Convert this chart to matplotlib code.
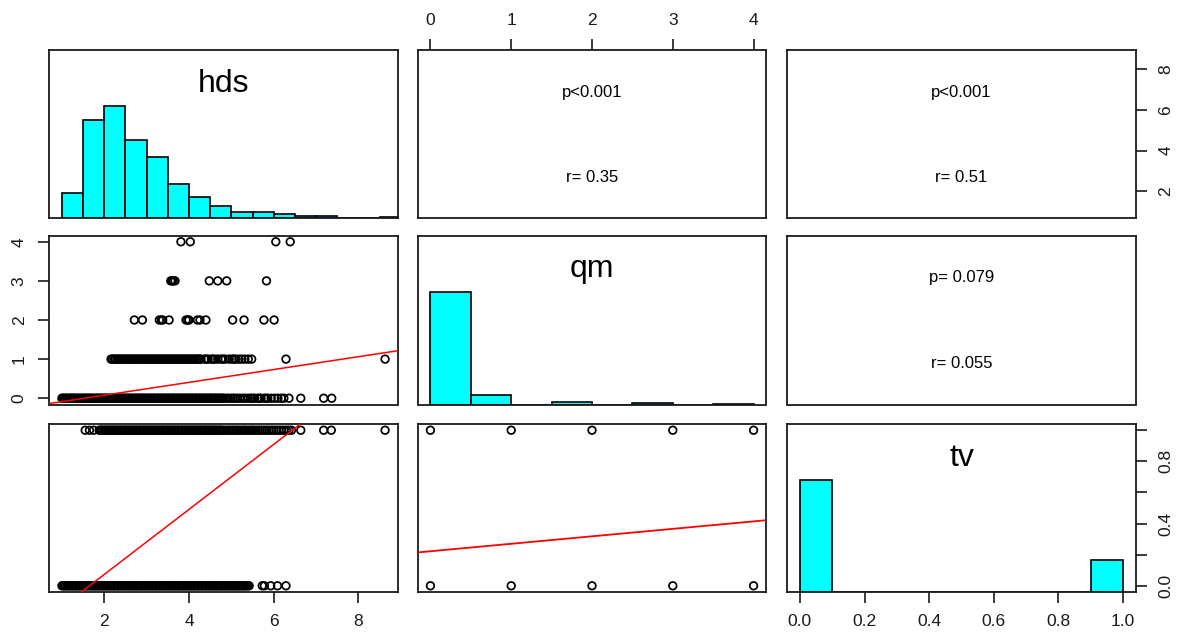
import matplotlib
matplotlib.use("Agg")
import matplotlib.pyplot as plt
import matplotlib.transforms as mtransforms
import numpy as np

plt.rcParams['font.family'] = ['Liberation Sans', 'DejaVu Sans']

# ---------------- data ----------------
var_names = ["hds", "qm", "tv"]

# histogram of hds (breaks every 0.5 from 1.0)
hds_breaks = [1.0, 1.5, 2.0, 2.5, 3.0, 3.5, 4.0, 4.5, 5.0, 5.5, 6.0, 6.5, 7.0, 7.5, 8.0, 8.5, 9.0]
hds_counts = [55, 212, 243, 170, 132, 73, 45, 27, 14, 14, 8, 4, 4, 0, 0, 2]

# histogram of qm
qm_breaks = [0.0, 0.5, 1.0, 1.5, 2.0, 2.5, 3.0, 3.5, 4.0]
qm_counts = [898, 77, 0, 17, 0, 8, 0, 4]

# histogram of tv
tv_breaks = [0.0, 0.1, 0.2, 0.3, 0.4, 0.5, 0.6, 0.7, 0.8, 0.9, 1.0]
tv_counts = [782, 0, 0, 0, 0, 0, 0, 0, 0, 222]

# hds values observed at each qm level
hds_qm0 = [1.00, 1.02, 1.05, 1.09, 1.11, 1.14, 1.18, 1.20, 1.23, 1.27, 1.29, 1.32, 1.36, 1.38,
           1.41, 1.45, 1.47, 1.50, 1.54, 1.56, 1.59, 1.63, 1.65, 1.68, 1.72, 1.74, 1.77, 1.81,
           1.83, 1.86, 1.90, 1.92, 1.95, 1.99, 2.01, 2.04, 2.08, 2.10, 2.13, 2.17, 2.19, 2.22,
           2.26, 2.28, 2.31, 2.35, 2.37, 2.40, 2.44, 2.46, 2.49, 2.53, 2.55, 2.58, 2.62, 2.64,
           2.67, 2.71, 2.73, 2.76, 2.80, 2.82, 2.85, 2.89, 2.91, 2.94, 2.98, 3.00, 3.03, 3.07,
           3.09, 3.12, 3.16, 3.18, 3.21, 3.25, 3.27, 3.30, 3.34, 3.36, 3.39, 3.43, 3.45, 3.48,
           3.52, 3.54, 3.57, 3.61, 3.63, 3.66, 3.70, 3.72, 3.75, 3.79, 3.81, 3.84, 3.88, 3.90,
           3.93, 3.97, 3.99, 4.02, 4.06, 4.08, 4.11, 4.15, 4.17, 4.20, 4.24, 4.26, 4.29, 4.33,
           4.35, 4.38, 4.42, 4.44, 4.47, 4.51, 4.53, 4.56, 4.60, 4.62, 4.65, 4.69, 4.71, 4.74,
           4.78, 4.80, 4.83,
           4.88, 4.93, 4.99, 5.04, 5.08, 5.14, 5.20, 5.27, 5.33, 5.40, 5.46, 5.51, 5.55, 5.62,
           5.66, 5.70, 5.78, 5.82, 5.86, 5.94, 6.02, 6.10, 6.18, 6.24, 6.36, 6.64, 7.18, 7.37]
hds_qm1 = [2.16, 2.19, 2.23, 2.26, 2.30, 2.33, 2.37, 2.40, 2.44, 2.47, 2.51, 2.54, 2.58, 2.61,
           2.65, 2.68, 2.72, 2.75, 2.79, 2.82, 2.86, 2.89, 2.93, 2.96, 3.00, 3.03, 3.07, 3.10,
           3.14, 3.17, 3.21, 3.24, 3.28, 3.31, 3.35, 3.38, 3.42, 3.45, 3.49, 3.52, 3.56, 3.59,
           3.63, 3.66, 3.70, 3.73, 3.77, 3.80, 3.84, 3.87, 3.91, 3.94, 3.98, 4.01, 4.05, 4.08,
           4.12, 4.15, 4.19, 4.22, 4.26, 4.28,
           4.37, 4.41, 4.45, 4.53, 4.57, 4.61, 4.68, 4.76, 4.80, 4.85, 4.95, 5.02, 5.06, 5.10,
           5.18, 5.25, 5.32, 5.40, 5.48, 6.29, 8.63]
hds_qm2 = [2.71, 2.90, 3.30, 3.35, 3.38, 3.53, 3.93, 3.97, 4.00, 4.20, 4.26, 4.40, 5.03, 5.30,
           5.77, 6.01]
hds_qm3 = [3.57, 3.60, 3.63, 3.67, 4.48, 4.68, 4.89, 5.83]
hds_qm4 = [3.81, 4.03, 6.05, 6.39]

# hds values observed at each tv level
hds_tv0 = [1.00, 1.03, 1.06, 1.08, 1.12, 1.15, 1.17, 1.21, 1.24, 1.26, 1.30, 1.33, 1.35, 1.39,
           1.42, 1.44, 1.48, 1.51, 1.53, 1.57, 1.60, 1.62, 1.66, 1.69, 1.71, 1.75, 1.78, 1.80,
           1.84, 1.87, 1.89, 1.93, 1.96, 1.98, 2.02, 2.05, 2.07, 2.11, 2.14, 2.16, 2.20, 2.23,
           2.25, 2.29, 2.32, 2.34, 2.38, 2.41, 2.43, 2.47, 2.50, 2.52, 2.56, 2.59, 2.61, 2.65,
           2.68, 2.70, 2.74, 2.77, 2.79, 2.83, 2.86, 2.88, 2.92, 2.95, 2.97, 3.01, 3.04, 3.06,
           3.10, 3.13, 3.15, 3.19, 3.22, 3.24, 3.28, 3.31, 3.33, 3.37, 3.40, 3.42, 3.46, 3.49,
           3.51, 3.55, 3.58, 3.60, 3.64, 3.67, 3.69, 3.73, 3.76, 3.78, 3.82, 3.85, 3.87, 3.91,
           3.94, 3.96, 4.00, 4.03, 4.05, 4.09, 4.12, 4.14, 4.18, 4.21, 4.23, 4.27, 4.30, 4.32,
           4.36, 4.39, 4.41, 4.45, 4.48, 4.50, 4.54, 4.57, 4.59, 4.63, 4.66, 4.68, 4.72, 4.75,
           4.77, 4.81, 4.84, 4.86, 4.90, 4.93, 4.95, 4.99, 5.02, 5.04, 5.08, 5.11, 5.13, 5.17,
           5.20, 5.22, 5.26, 5.29, 5.31, 5.35, 5.38, 5.42,
           5.73, 5.78, 5.93, 6.09, 6.29]
hds_tv1 = [1.55, 1.65, 1.75,
           1.88, 1.91, 1.94, 1.96, 2.00, 2.03, 2.05, 2.09, 2.12, 2.14, 2.18, 2.21, 2.23, 2.27,
           2.30, 2.32, 2.36, 2.39, 2.41, 2.45, 2.48, 2.50, 2.54, 2.57, 2.59, 2.63, 2.66, 2.68,
           2.72, 2.75, 2.77, 2.81, 2.84, 2.86, 2.90, 2.93, 2.95, 2.99, 3.02, 3.04, 3.08, 3.11,
           3.13, 3.17, 3.20, 3.22, 3.26, 3.29, 3.31, 3.35, 3.38, 3.40, 3.44, 3.47, 3.49, 3.53,
           3.56, 3.58, 3.62, 3.65, 3.67, 3.71, 3.74, 3.76, 3.80, 3.83, 3.85, 3.89, 3.92, 3.94,
           3.98, 4.01, 4.03, 4.07, 4.10, 4.12, 4.16, 4.19, 4.21, 4.25, 4.28, 4.30, 4.34, 4.37,
           4.39, 4.43, 4.46, 4.48, 4.52, 4.55, 4.57, 4.61, 4.64, 4.66, 4.70, 4.73, 4.75, 4.79,
           4.83,
           4.88, 4.93, 4.97, 5.02, 5.06, 5.11, 5.15, 5.20, 5.25, 5.30, 5.34, 5.39, 5.44, 5.49,
           5.53, 5.58, 5.63, 5.68, 5.73, 5.79, 5.84, 5.89, 5.95, 6.00, 6.06, 6.12, 6.18, 6.24,
           6.30, 6.36, 6.42, 6.64, 7.18, 7.36, 8.63]

# qm/tv combinations observed
qm_levels = [0, 1, 2, 3, 4]
tv_levels = [0, 1]

# regression lines (intercept, slope)
fit_qm_on_hds = (-0.25, 0.164)
fit_tv_on_hds = (-0.345, 0.209)
fit_tv_on_qm = (0.222, 0.048)

# correlation texts
cor_p = {(0, 1): "p<0.001", (0, 2): "p<0.001", (1, 2): "p= 0.079"}
cor_r = {(0, 1): "r= 0.35", (0, 2): "r= 0.51", (1, 2): "r= 0.055"}

# ---------------- layout ----------------
W, H = 1182, 632
fig = plt.figure(figsize=(W / 100, H / 100), dpi=100)
col_left = [49, 417.5, 787]
col_w = 349
row_top = [50, 235.5, 424]
row_h = [168, 169, 168]


def rlim(lo, hi):
    d = (hi - lo) * 0.04
    return (lo - d, hi + d)


lims = {0: rlim(min(hds_qm0 + hds_qm1 + hds_qm2 + hds_qm3 + hds_qm4), max(hds_qm1)),
        1: rlim(min(qm_levels), max(qm_levels)),
        2: rlim(min(tv_levels), max(tv_levels))}

axes = {}
for r in range(3):
    for c in range(3):
        ax = fig.add_axes([col_left[c] / W, 1 - (row_top[r] + row_h[r]) / H,
                           col_w / W, row_h[r] / H])
        for s in ax.spines.values():
            s.set_linewidth(1.3)
            s.set_color('#1a1a1a')
        ax.set_xticks([])
        ax.set_yticks([])
        ax.set_xlim(lims[c])
        ax.set_ylim(lims[r])
        axes[(r, c)] = ax

tick_kw = dict(length=8, width=1.2, labelsize=12.5, pad=8, color='#1a1a1a', labelcolor='#1a1a1a')
circ_kw = dict(s=30, facecolors='none', edgecolors='black', linewidths=1.25, zorder=3, clip_on=True)

# diagonal histograms (heights scaled to a 0..1.5 vertical range, like R's pairs)
for i, (br, ct) in enumerate([(hds_breaks, hds_counts), (qm_breaks, qm_counts), (tv_breaks, tv_counts)]):
    ax = axes[(i, i)]
    trans = mtransforms.blended_transform_factory(ax.transData, ax.transAxes)
    mx = max(ct)
    lefts = br[:-1]
    widths = [b - a for a, b in zip(br[:-1], br[1:])]
    hts = [v / mx / 1.5 for v in ct]
    ax.bar(lefts, hts, width=widths, align='edge', color='#00FFFF', edgecolor='black',
           linewidth=1.2, zorder=2, transform=trans)
    ax.text(0.5, 0.752, var_names[i], transform=ax.transAxes, ha='center', va='baseline',
            fontsize=23, color='black')

# lower scatter panels
ax = axes[(1, 0)]
for lev, vals in zip(qm_levels, [hds_qm0, hds_qm1, hds_qm2, hds_qm3, hds_qm4]):
    ax.scatter(vals, [lev] * len(vals), **circ_kw)
xx = np.array(lims[0])
ax.plot(xx, fit_qm_on_hds[0] + fit_qm_on_hds[1] * xx, color='red', lw=1.1, zorder=4)

ax = axes[(2, 0)]
for lev, vals in zip(tv_levels, [hds_tv0, hds_tv1]):
    ax.scatter(vals, [lev] * len(vals), **circ_kw)
ax.plot(xx, fit_tv_on_hds[0] + fit_tv_on_hds[1] * xx, color='red', lw=1.1, zorder=4)

ax = axes[(2, 1)]
for lev in tv_levels:
    ax.scatter(qm_levels, [lev] * len(qm_levels), **circ_kw)
xq = np.array(lims[1])
ax.plot(xq, fit_tv_on_qm[0] + fit_tv_on_qm[1] * xq, color='red', lw=1.3, zorder=4)

# upper text panels
for (r, c), ptxt in cor_p.items():
    ax = axes[(r, c)]
    ax.text(0.5, 0.75, ptxt, transform=ax.transAxes, ha='center', va='center', fontsize=12)
    ax.text(0.5, 0.24, cor_r[(r, c)], transform=ax.transAxes, ha='center', va='center', fontsize=12)

# axes ticks (alternating as in R pairs)
ax = axes[(2, 0)]
ax.set_xticks([2, 4, 6, 8])
ax.set_xticklabels(['2', '4', '6', '8'])
ax.tick_params(axis='x', **tick_kw)

ax = axes[(2, 2)]
ax.set_xticks([0.0, 0.2, 0.4, 0.6, 0.8, 1.0])
ax.set_xticklabels(['0.0', '0.2', '0.4', '0.6', '0.8', '1.0'])
ax.tick_params(axis='x', **tick_kw)
ax.yaxis.tick_right()
ax.set_yticks([0.0, 0.2, 0.4, 0.6, 0.8, 1.0])
ax.set_yticklabels(['0.0', '', '0.4', '', '0.8', ''], rotation=90, va='center')
ax.tick_params(axis='y', **tick_kw)

ax = axes[(0, 1)]
ax.xaxis.tick_top()
ax.set_xticks([0, 1, 2, 3, 4])
ax.set_xticklabels(['0', '1', '2', '3', '4'])
ax.tick_params(axis='x', **tick_kw)

ax = axes[(0, 2)]
ax.yaxis.tick_right()
ax.set_yticks([2, 4, 6, 8])
ax.set_yticklabels(['2', '4', '6', '8'], rotation=90, va='center')
ax.tick_params(axis='y', **tick_kw)

ax = axes[(1, 0)]
ax.set_yticks([0, 1, 2, 3, 4])
ax.set_yticklabels(['0', '1', '2', '3', '4'], rotation=90, va='center')
ax.tick_params(axis='y', **tick_kw)

fig.savefig('out.png', dpi=100)
